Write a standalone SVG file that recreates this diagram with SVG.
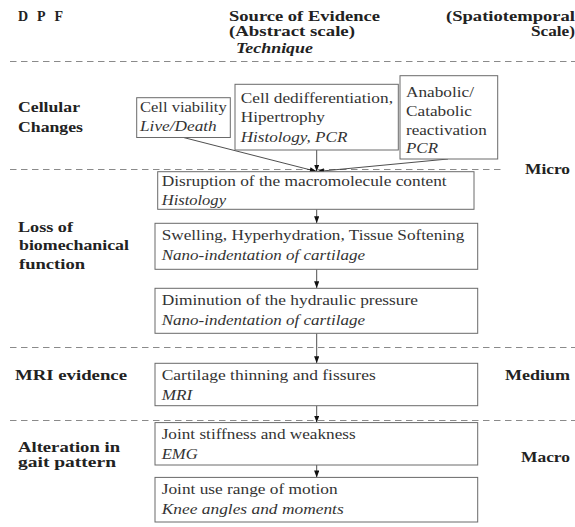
<svg xmlns="http://www.w3.org/2000/svg" width="575" height="527" viewBox="0 0 575 527">
<style>
text{font-family:'Liberation Serif','Times New Roman',Tinos,'Noto Serif','DejaVu Serif','Nimbus Roman','FreeSerif',Times,serif;font-size:14.5px;fill:#333}
.i{font-style:italic}
.b{font-weight:bold;fill:#222;font-size:14px}
.bi{font-weight:bold;font-style:italic;fill:#222;font-size:14px}
.box{fill:#fff;stroke:#6a6a6a;stroke-width:1}
.sep{stroke:#8a8a8a;stroke-width:1;stroke-dasharray:6.5 4.5;fill:none}
.con{stroke:#222;stroke-width:0.8;fill:none;marker-end:url(#ah)}
</style>
<defs>
<marker id="ah" markerUnits="userSpaceOnUse" markerWidth="8" markerHeight="6" refX="7" refY="2.6" orient="auto">
<path d="M0,0 L7,2.6 L0,5.2 Z" fill="#111"/>
</marker>
</defs>
<rect width="575" height="527" fill="#fff"/>

<g id="header">
<text class="b" x="18" y="20.5" textLength="45" lengthAdjust="spacing">DPF</text>
<text class="b" x="229" y="20.5" textLength="151" lengthAdjust="spacingAndGlyphs">Source of Evidence</text>
<text class="b" x="229" y="35.5" textLength="126" lengthAdjust="spacingAndGlyphs">(Abstract scale)</text>
<text class="bi" x="236" y="53" textLength="77" lengthAdjust="spacingAndGlyphs">Technique</text>
<text class="b" x="446" y="20.5" textLength="129" lengthAdjust="spacingAndGlyphs">(Spatiotemporal</text>
<text class="b" x="531" y="35.5" textLength="44" lengthAdjust="spacingAndGlyphs">Scale)</text>
</g>

<g id="separators">
<line class="sep" x1="10" y1="61.5" x2="575" y2="61.5"/>
<line class="sep" x1="10" y1="169.5" x2="502" y2="169.5"/>
<line class="sep" x1="10" y1="347.5" x2="575" y2="347.5"/>
<line class="sep" x1="10" y1="420.5" x2="575" y2="420.5"/>
</g>

<g id="row-labels">
<text class="b" x="18" y="112" textLength="62" lengthAdjust="spacingAndGlyphs">Cellular</text>
<text class="b" x="18" y="132" textLength="65" lengthAdjust="spacingAndGlyphs">Changes</text>
<text class="b" x="18" y="231.5" textLength="55" lengthAdjust="spacingAndGlyphs">Loss of</text>
<text class="b" x="19" y="250" textLength="110" lengthAdjust="spacingAndGlyphs">biomechanical</text>
<text class="b" x="19" y="268.5" textLength="66" lengthAdjust="spacingAndGlyphs">function</text>
<text class="b" x="15" y="380" textLength="112" lengthAdjust="spacingAndGlyphs">MRI evidence</text>
<text class="b" x="18" y="452" textLength="102" lengthAdjust="spacingAndGlyphs">Alteration in</text>
<text class="b" x="18" y="467" textLength="98" lengthAdjust="spacingAndGlyphs">gait pattern</text>
</g>

<g id="scale-labels">
<text class="b" x="525" y="173.5" textLength="45" lengthAdjust="spacingAndGlyphs">Micro</text>
<text class="b" x="505" y="380" textLength="65" lengthAdjust="spacingAndGlyphs">Medium</text>
<text class="b" x="521" y="462" textLength="49" lengthAdjust="spacingAndGlyphs">Macro</text>
</g>

<g id="connectors">
<line class="con" x1="183.5" y1="137.5" x2="316.7" y2="171.5"/>
<line class="con" x1="316.7" y1="150" x2="316.7" y2="171.5"/>
<line class="con" x1="448" y1="159" x2="317" y2="171.5"/>
<line class="con" x1="316.7" y1="209.3" x2="316.7" y2="223.3"/>
<line class="con" x1="316.7" y1="269.3" x2="316.7" y2="288.3"/>
<line class="con" x1="316.7" y1="333.3" x2="316.7" y2="363.3"/>
<line class="con" x1="316.7" y1="405.7" x2="316.7" y2="422.6"/>
<line class="con" x1="316.7" y1="465" x2="316.7" y2="477.4"/>
</g>

<g id="cell-viability">
<rect class="box" x="136.7" y="97.7" width="93.6" height="39.8"/>
<text x="140" y="112" textLength="86.7" lengthAdjust="spacingAndGlyphs">Cell viability</text>
<text class="i" x="140" y="131" textLength="76.7" lengthAdjust="spacingAndGlyphs">Live/Death</text>
</g>

<g id="cell-dedifferentiation">
<rect class="box" x="235" y="84.3" width="163.3" height="65.7"/>
<text x="240.7" y="103" textLength="152.3" lengthAdjust="spacingAndGlyphs">Cell dedifferentiation,</text>
<text x="240.7" y="122" textLength="84.3" lengthAdjust="spacingAndGlyphs">Hipertrophy</text>
<text class="i" x="240.7" y="141.5" textLength="106.7" lengthAdjust="spacingAndGlyphs">Histology, PCR</text>
</g>

<g id="anabolic-catabolic">
<rect class="box" x="400" y="75.7" width="97.7" height="83.3"/>
<text x="406" y="97" textLength="68" lengthAdjust="spacingAndGlyphs">Anabolic/</text>
<text x="406" y="116" textLength="66" lengthAdjust="spacingAndGlyphs">Catabolic</text>
<text x="406" y="134.5" textLength="80.7" lengthAdjust="spacingAndGlyphs">reactivation</text>
<text class="i" x="406" y="152.5" textLength="32" lengthAdjust="spacingAndGlyphs">PCR</text>
</g>

<g id="disruption">
<rect class="box" x="157.7" y="171.7" width="316.3" height="37.6"/>
<text x="161.7" y="186" textLength="285" lengthAdjust="spacingAndGlyphs">Disruption of the macromolecule content</text>
<text class="i" x="161.7" y="204.5" textLength="64.3" lengthAdjust="spacingAndGlyphs">Histology</text>
</g>

<g id="swelling">
<rect class="box" x="155" y="223.3" width="322.7" height="46"/>
<text x="161.7" y="240" textLength="302.6" lengthAdjust="spacingAndGlyphs">Swelling, Hyperhydration, Tissue Softening</text>
<text class="i" x="161.7" y="259.5" textLength="203.3" lengthAdjust="spacingAndGlyphs">Nano-indentation of cartilage</text>
</g>

<g id="diminution">
<rect class="box" x="155" y="288.3" width="322.7" height="45"/>
<text x="161.7" y="305" textLength="256.3" lengthAdjust="spacingAndGlyphs">Diminution of the hydraulic pressure</text>
<text class="i" x="161.7" y="324.5" textLength="203.3" lengthAdjust="spacingAndGlyphs">Nano-indentation of cartilage</text>
</g>

<g id="cartilage-thinning">
<rect class="box" x="155" y="363.3" width="322.7" height="42.4"/>
<text x="161.7" y="380" textLength="214" lengthAdjust="spacingAndGlyphs">Cartilage thinning and fissures</text>
<text class="i" x="161.7" y="400" textLength="30.5" lengthAdjust="spacingAndGlyphs">MRI</text>
</g>

<g id="joint-stiffness">
<rect class="box" x="155" y="422.6" width="322.7" height="42.4"/>
<text x="161.7" y="439" textLength="194" lengthAdjust="spacingAndGlyphs">Joint stiffness and weakness</text>
<text class="i" x="161.7" y="459" textLength="36" lengthAdjust="spacingAndGlyphs">EMG</text>
</g>

<g id="joint-range">
<rect class="box" x="155" y="477.4" width="322.7" height="44.6"/>
<text x="161.7" y="494" textLength="176" lengthAdjust="spacingAndGlyphs">Joint use range of motion</text>
<text class="i" x="161.7" y="514" textLength="182" lengthAdjust="spacingAndGlyphs">Knee angles and moments</text>
</g>
</svg>
